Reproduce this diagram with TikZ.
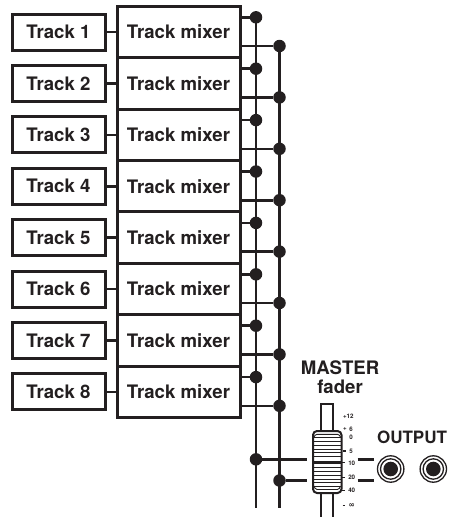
\documentclass[tikz,border=0pt]{standalone}
\usepackage{fontspec}
\setmainfont{TeX Gyre Heros}
\newfontfamily\symfont{DejaVu Sans}
\definecolor{ink}{HTML}{231F20}
\tikzset{
 x=1pt,y=-1pt,
 every node/.style={inner sep=0,outer sep=0,text=ink,font=\bfseries\fontsize{18.6}{20}\selectfont},
 trackbox/.style={draw=ink,line width=3pt,minimum width=93pt,minimum height=36pt},
 mixbox/.style={draw=ink,line width=3pt,minimum width=123pt,minimum height=51.4pt},
 wire/.style={draw=ink,line width=2.6pt},
 dot/.style={circle,fill=ink,minimum size=12.5pt},
 tiny/.style={font=\bfseries\fontsize{6.2}{7}\selectfont},
 slot/.style={draw=ink,line width=2pt},
 stripe/.style={draw=ink,line width=0.9pt},
 tick/.style={draw=ink,line width=1.1pt},
 ring/.style={draw=ink,line width=1.3pt},
}
\begin{document}
\begin{tikzpicture}
\useasboundingbox (0,0) rectangle (455,517);
\coordinate (b1top) at (256,17);
\coordinate (b1end) at (256,508);
\coordinate (b2top) at (279.5,46);
\coordinate (b2end) at (279.5,508);
\draw[wire] (b1top) -- (b1end);
\draw[wire] (b2top) -- (b2end);
\foreach \i in {1,...,8}{
  \pgfmathsetmacro{\yy}{32+51.4*(\i-1)}
  \node[trackbox] (t\i) at (58.5,\yy) {Track \i};
  \node[mixbox] (m\i) at (178.5,\yy) {Track mixer};
  \draw[wire] (t\i.east) -- (m\i.west);
  \node[dot] (p\i) at (256,\yy-14.7) {};
  \node[dot] (q\i) at (279.5,\yy+14) {};
  \draw[wire] (m\i.east |- p\i) -- (p\i);
  \draw[wire] (m\i.east |- q\i) -- (q\i);
}
% master
\node (mst) at (340,367.5) {MASTER};
\node (fdr) at (340,387) {fader};
\node[font=\bfseries\fontsize{17}{19}\selectfont] (out) at (412,437) {OUTPUT};
% outputs
\node[dot] (d1) at (256,459.3) {};
\node[dot] (d2) at (279.5,480.5) {};
\coordinate (w1) at (306.7,459.3);
\coordinate (w2) at (306.7,480.5);
\draw[wire] (d1) -- (w1);
\draw[wire] (d2) -- (w2);
\coordinate (r1a) at (357.5,459.3);
\coordinate (r1b) at (374,459.3);
\coordinate (r2a) at (357.5,480.5);
\coordinate (r2b) at (374,480.5);
\draw[wire] (r1a) -- (r1b);
\draw[wire] (r2a) -- (r2b);
% fader
\draw[slot] (320.7,431) -- (320.7,403.5) -- (333.2,403.5) -- (333.2,431);
\draw[slot] (320.7,492) -- (320.7,517);
\draw[slot] (333.2,492) -- (333.2,517);
\draw[slot,fill=white,rounded corners=4pt] (313,431) rectangle (341.5,493);
\foreach \yy in {437.5,441.3,445,449,452.7,456.5,467.5,471,475,479,482.5,486}{
  \draw[stripe] (314,\yy) -- (340.5,\yy);
}
\draw[stripe] (314,437) to[out=60,in=180] (317,434.3) -- (337.5,434.3) to[out=0,in=120] (340.5,437);
\draw[stripe] (314,486) to[out=-60,in=180] (317,489.5) -- (337.5,489.5) to[out=0,in=-120] (340.5,486);
\draw[ink,line width=2.8pt] (314,462.3) -- (340.5,462.3);
% scale
\node[tiny] (s12) at (348.3,416.7) {+12};
\node[tiny] (sp) at (345,429.3) {+};
\node[tiny] (s6) at (351,429.3) {6};
\node[tiny] (s0) at (351,437) {0};
\node[tiny] (s5) at (351,451) {5};
\node[tiny] (s10) at (351.7,463) {10};
\node[tiny] (s20) at (351.7,477.3) {20};
\node[tiny] (s40) at (351.7,490.7) {40};
\node[tiny,font=\symfont\bfseries\fontsize{7.5}{8}\selectfont] (sinf) at (351.7,505.7) {∞};
\draw[tick] (343.3,451) -- (346,451);
\draw[tick] (342,462.7) -- (344.5,462.7);
\draw[tick] (342,477.3) -- (345,477.3);
\draw[tick] (341.5,490.7) -- (345,490.7);
\draw[tick] (342.5,505.7) -- (345,505.7);
% jacks
\foreach \cx in {390.7,433.3}{
  \draw[ring] (\cx,469) circle (13.2);
  \draw[ring] (\cx,469) circle (10.2);
  \fill[ink] (\cx,469) circle (7.3);
}
\end{tikzpicture}
\end{document}
